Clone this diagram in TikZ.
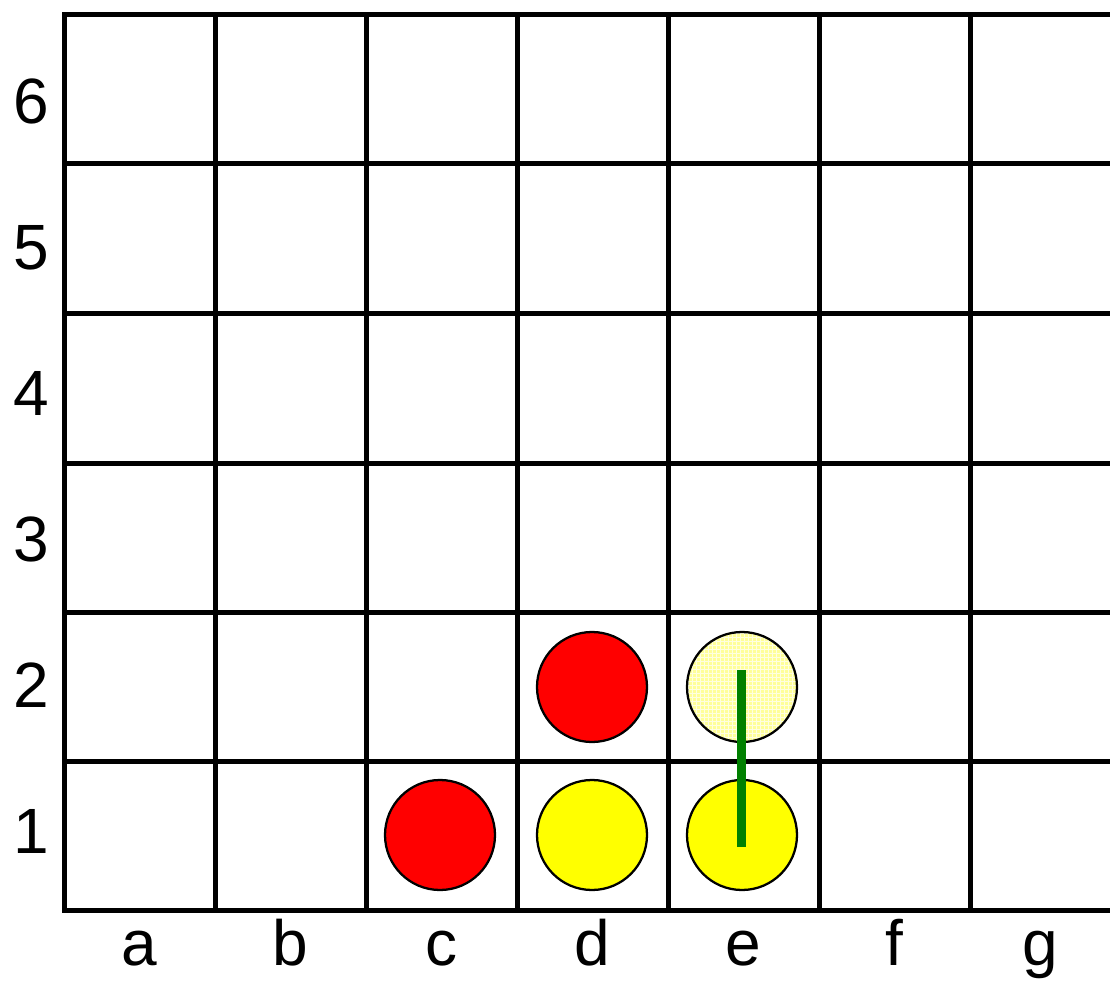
\documentclass[tikz,border=0pt]{standalone}
\usepackage{fontspec}
\setmainfont{Liberation Sans}
\usetikzlibrary{patterns}
\definecolor{darkgreen}{rgb}{0,0.5,0}
\definecolor{discyellow}{rgb}{1,1,0}
\definecolor{discred}{rgb}{1,0,0}
\definecolor{paleyellow}{rgb}{1,1,0.6}
\definecolor{palegrid}{rgb}{1,1,0.88}
\tikzset{
  gridline/.style={line width=3.75pt, black},
  disc/.style={circle, draw=black, line width=1.7pt, minimum size=82.5pt, inner sep=0pt},
  reddisc/.style={disc, fill=discred},
  yellowdisc/.style={disc, fill=discyellow},
  paledisc/.style={disc, preaction={fill=paleyellow}, pattern=grid, pattern color=palegrid},
  lbl/.style={font=\fontsize{48}{48}\selectfont, anchor=base, inner sep=0pt},
  winline/.style={line width=6.75pt, darkgreen},
}
\begin{document}
\begin{tikzpicture}[x=0.75pt, y=-0.75pt]
\useasboundingbox (0,0) rectangle (1110,981);
% grid
\foreach \yy in {15,163,313,463,612,761,910} {
  \draw[gridline] (62,\yy) -- (1110,\yy);
}
\draw[gridline] (64,13) -- (64,912);
\foreach \xx in {215,366,517,668,819,970} {
  \draw[gridline] (\xx,15) -- (\xx,910);
}
% discs
\node[reddisc] (c1) at (440,835) {};
\node[yellowdisc] (d1) at (592,835) {};
\node[yellowdisc] (e1) at (742,835) {};
\node[reddisc] (d2) at (592,687) {};
\node[paledisc] (e2) at (742,687) {};
% winning line
\coordinate (gtop) at (741.5,670);
\coordinate (gbot) at (741.5,847);
\draw[winline] (gtop) -- (gbot);
% column labels
\node[lbl] (la) at (139.5,965) {a};
\node[lbl] (lb) at (290.5,965) {b};
\node[lbl] (lc) at (441.5,965) {c};
\node[lbl] (ld) at (592.5,965) {d};
\node[lbl] (le) at (743.5,965) {e};
\node[lbl] (lf) at (894.5,965) {f};
\node[lbl] (lg) at (1040,965) {g};
% row labels
\node[lbl] (r6) at (31,123) {6};
\node[lbl] (r5) at (31,269) {5};
\node[lbl] (r4) at (31,415) {4};
\node[lbl] (r3) at (31,561) {3};
\node[lbl] (r2) at (31,707) {2};
\node[lbl] (r1) at (31,853) {1};
\end{tikzpicture}
\end{document}
